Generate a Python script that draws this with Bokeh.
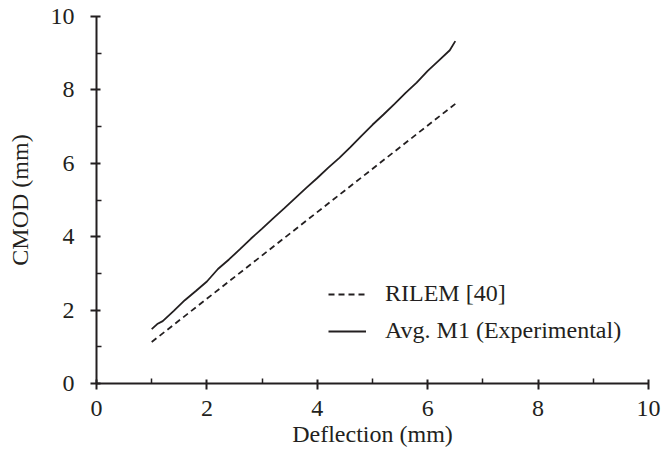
from bokeh.plotting import figure
from bokeh.models import Range1d, Legend, LegendItem, FixedTicker
from bokeh.embed import file_html
from bokeh.resources import INLINE

# Data
avg_x = [1.00, 1.10, 1.20, 1.40, 1.60, 1.80, 2.00, 2.20, 2.40, 2.60, 2.80, 3.00, 3.20,
         3.40, 3.60, 3.80, 4.00, 4.20, 4.40, 4.60, 4.80, 5.00, 5.20, 5.40, 5.60, 5.80,
         6.00, 6.20, 6.40, 6.50]
avg_y = [1.48, 1.62, 1.70, 1.98, 2.27, 2.52, 2.78, 3.12, 3.38, 3.66, 3.95, 4.22, 4.50,
         4.77, 5.05, 5.33, 5.60, 5.88, 6.15, 6.44, 6.75, 7.05, 7.33, 7.62, 7.92, 8.20,
         8.52, 8.80, 9.08, 9.33]
rilem_x = [1.0, 6.5]
rilem_y = [1.13, 7.62]
x_ticks = [0, 2, 4, 6, 8, 10]
y_ticks = [0, 2, 4, 6, 8, 10]
minor = [1, 3, 5, 7, 9]

INK = "#231f20"
FONT = "Liberation Serif"
FS = "24px"

p = figure(width=662, height=459, output_backend="svg", toolbar_location=None,
           x_range=Range1d(0, 10), y_range=Range1d(0, 10),
           min_border_left=96, min_border_right=14, min_border_top=16, min_border_bottom=76)
p.outline_line_color = None
p.grid.visible = False
p.background_fill_color = "white"

r1 = p.line(rilem_x, rilem_y, line_color=INK, line_width=1.8, line_dash="6 4")
r2 = p.line(avg_x, avg_y, line_color=INK, line_width=1.8)

for ax, ticks, title in ((p.xaxis[0], x_ticks, "Deflection (mm)"), (p.yaxis[0], y_ticks, "CMOD (mm)")):
    ax.ticker = FixedTicker(ticks=ticks, minor_ticks=minor)
    ax.axis_label = title
    ax.axis_label_text_font = FONT
    ax.axis_label_text_font_size = FS
    ax.axis_label_text_font_style = "normal"
    ax.axis_label_text_color = INK
    ax.major_label_text_font = FONT
    ax.major_label_text_font_size = FS
    ax.major_label_text_color = INK
    ax.axis_line_color = INK
    ax.axis_line_width = 2
    ax.major_tick_line_color = INK
    ax.major_tick_line_width = 2
    ax.minor_tick_line_color = INK
    ax.minor_tick_line_width = 1.5
    ax.major_tick_out = 6
    ax.major_tick_in = 4
    ax.minor_tick_in = 5
    ax.minor_tick_out = 0

p.yaxis.major_label_standoff = 16
p.yaxis.axis_label_standoff = 15
p.xaxis.major_label_standoff = 11
p.xaxis.axis_label_standoff = 2

legend = Legend(items=[LegendItem(label="RILEM [40]", renderers=[r1]),
                       LegendItem(label="Avg. M1 (Experimental)", renderers=[r2])],
                location=(232, 39), padding=0, margin=0, spacing=10,
                glyph_width=38, glyph_height=20, label_height=20, label_standoff=19,
                label_text_font=FONT, label_text_font_size=FS, label_text_color=INK,
                border_line_color=None, background_fill_alpha=0)
p.add_layout(legend)

open("out.html", "w").write(file_html(p, INLINE))
